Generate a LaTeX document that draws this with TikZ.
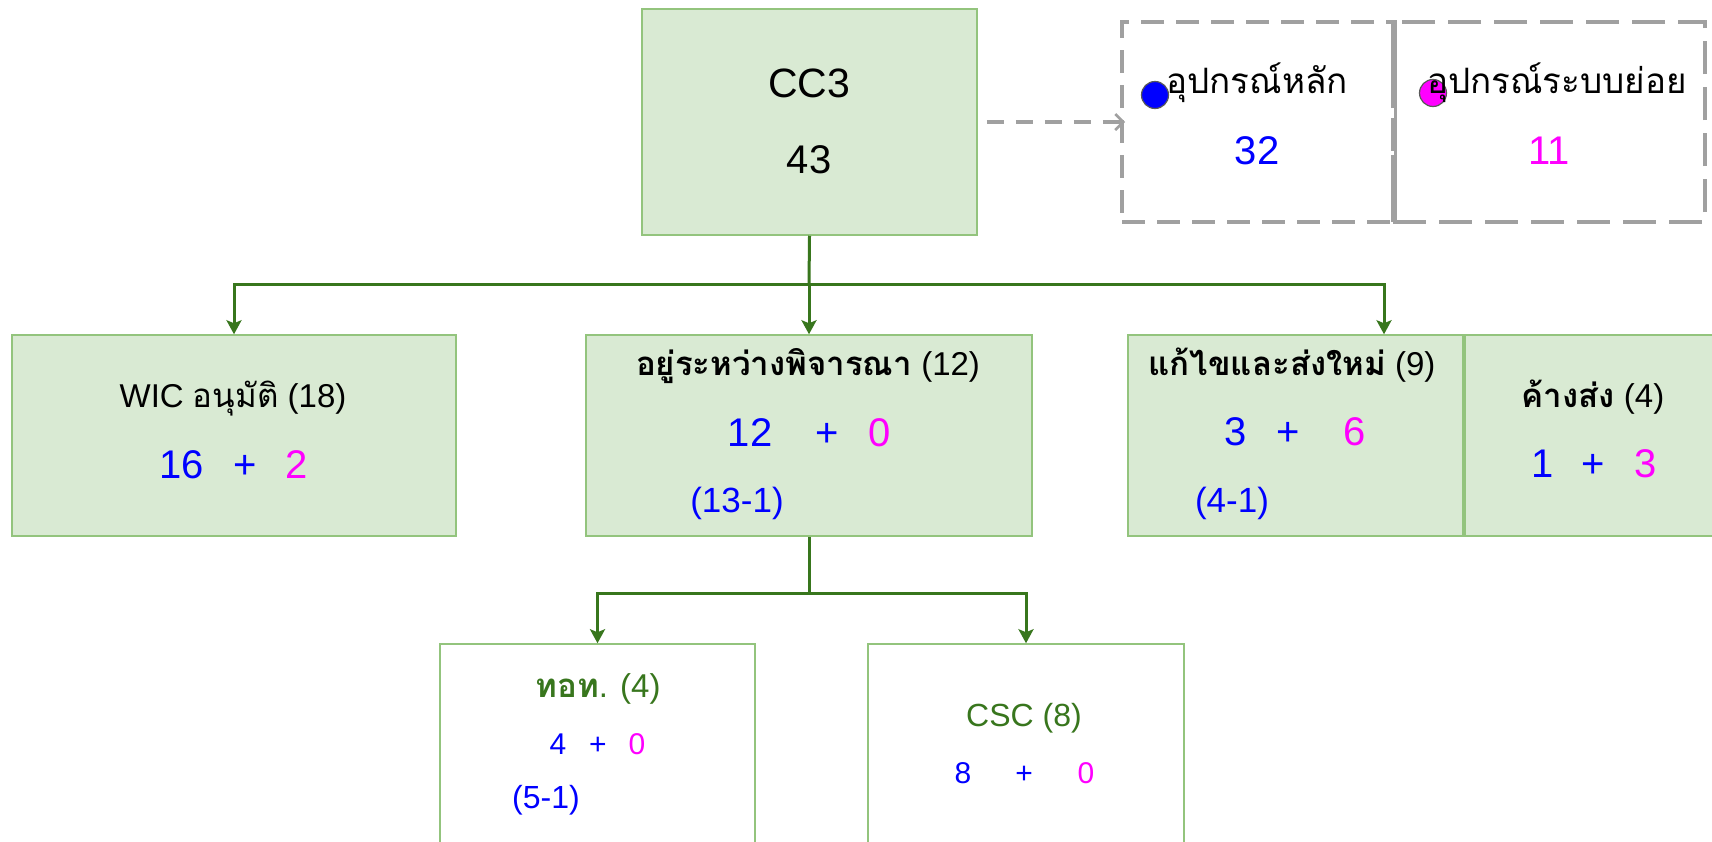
\documentclass[tikz,border=0pt]{standalone}
\usepackage{fontspec}
\setmainfont{Liberation Sans}
\newfontfamily\thaifont[Script=Thai]{Loma}
\usetikzlibrary{arrows.meta}
\definecolor{boxfill}{HTML}{D9EAD3}
\definecolor{boxline}{HTML}{93C47D}
\definecolor{dgreen}{HTML}{38761D}
\definecolor{dgray}{HTML}{A0A0A0}
\definecolor{mag}{HTML}{FF00FF}
\newcommand\fsz[1]{\fontsize{#1}{#1}\selectfont}
\newcommand\tht[1]{{\thaifont #1}}
\tikzset{
  gbox/.style={draw=boxline, fill=boxfill, line width=1.5pt, inner sep=0pt},
  wbox/.style={draw=boxline, fill=white, line width=1.5pt, inner sep=0pt},
  lbox/.style={draw=dgray, line width=4pt, inner sep=0pt},
  gline/.style={draw=dgreen, line width=3pt},
  garrow/.style={gline, -{Stealth[length=14pt,width=15pt,inset=3pt]}},
  darrow/.style={draw=dgray, line width=4pt, dash pattern=on 17pt off 12pt, -{Straight Barb[length=8pt,width=16pt,line width=2.5pt]}},
  txt/.style={anchor=base, inner sep=0pt},
  dot/.style={circle, draw=black!65, line width=1.2pt, minimum size=27pt, inner sep=0pt},
}
\begin{document}
\begin{tikzpicture}[x=1pt,y=-1pt]
\useasboundingbox (0,0) rectangle (1712,841);
\fill[white] (0,0) rectangle (1712,841);
\clip (0,0) rectangle (1712,841);

% boxes
\node[gbox, minimum width=335pt, minimum height=226pt] (cc3) at (809.5,122) {};
\node[gbox, minimum width=444pt, minimum height=201pt] (wic) at (234,435.5) {};
\node[gbox, minimum width=446pt, minimum height=201pt] (pend) at (809,435.5) {};
\node[gbox, minimum width=335pt, minimum height=201pt] (fix) at (1295.5,435.5) {};
\node[gbox, minimum width=270pt, minimum height=201pt] (owe) at (1600,435.5) {};
\node[wbox, minimum width=315pt, minimum height=256pt] (aot) at (597.5,772) {};
\node[wbox, minimum width=316pt, minimum height=256pt] (csc) at (1026,772) {};
\node[lbox, dash pattern=on 23pt off 12pt, minimum width=271pt, minimum height=200pt] (legL) at (1257.5,122) {};
\node[lbox, dash pattern=on 33pt off 13pt, minimum width=312pt, minimum height=200pt] (legR) at (1549,122) {};
\draw[dgray, line width=3pt] (legL.north east) -- (legL.south east);

% connectors
\coordinate (j1) at (809,284);
\coordinate (j2) at (809,593);
\draw[gline] (cc3.south) -- (j1);
\draw[garrow] (j1) -- (pend.north);
\draw[garrow, line join=miter] (j1) -| (wic.north);
\draw[garrow, line join=miter] (j1) -| ([xshift=88.5pt]fix.north);
\draw[gline] (pend.south) -- (j2);
\draw[garrow, line join=miter] (j2) -| (aot.north);
\draw[garrow, line join=miter] (j2) -| (csc.north);
\draw[darrow, shorten <=9pt, shorten >=-5pt] (cc3.east) -- (legL.west);

% CC3
\node[txt, font=\fsz{41}] (t-cc3) at (809,97) {CC3};
\node[txt, font=\fsz{40}] (t-43) at (809,173) {43};

% legend
\node[dot, fill=blue] (bdot) at (1155,95) {};
\node[dot, fill=mag] (mdot) at (1433,93) {};
\node[txt, font=\fsz{35}] (t-main) at (1257,93) {\tht{อุปกรณ์หลัก}};
\node[txt, font=\fsz{40}, text=blue] (t-32) at (1257,164) {32};
\node[txt, font=\fsz{35}] (t-sub) at (1557,93) {\tht{อุปกรณ์ระบบย่อย}};
\node[txt, font=\fsz{40}, text=mag] (t-11) at (1549,164) {11};

% WIC
\node[txt, font=\fsz{33}] (t-wic) at (233,407) {WIC \tht{อนุมัติ} (18)};
\node[txt, font=\fsz{40}, text=blue] (w1) at (182,478) {16};
\node[txt, font=\fsz{40}, text=blue] (w2) at (245,478) {+};
\node[txt, font=\fsz{40}, text=mag] (w3) at (297,478) {2};

% pending
\node[txt, font=\fsz{33}] (t-pend) at (808,375) {\tht{\bfseries อยู่ระหว่างพิจารณา} (12)};
\node[txt, font=\fsz{40}, text=blue] (p1) at (750,446) {12};
\node[txt, font=\fsz{40}, text=blue] (p2) at (827,446) {+};
\node[txt, font=\fsz{40}, text=mag] (p3) at (880,446) {0};
\node[txt, font=\fsz{35}, text=blue] (p4) at (737,512) {(13-1)};

% fix
\node[txt, font=\fsz{33}] (t-fix) at (1292,375) {\tht{\bfseries แก้ไขและส่งใหม่} (9)};
\node[txt, font=\fsz{40}, text=blue] (f1) at (1236,445) {3};
\node[txt, font=\fsz{40}, text=blue] (f2) at (1288,445) {+};
\node[txt, font=\fsz{40}, text=mag] (f3) at (1355,445) {6};
\node[txt, font=\fsz{35}, text=blue] (f4) at (1232,512) {(4-1)};

% owe
\node[txt, font=\fsz{33}] (t-owe) at (1593,407) {\tht{\bfseries ค้างส่ง} (4)};
\node[txt, font=\fsz{40}, text=blue] (o1) at (1543,477) {1};
\node[txt, font=\fsz{40}, text=blue] (o2) at (1593,477) {+};
\node[txt, font=\fsz{40}, text=mag] (o3) at (1646,477) {3};

% AOT
\node[txt, font=\fsz{33}, text=dgreen] (t-aot) at (598,697) {\tht{\bfseries ทอท}. (4)};
\node[txt, font=\fsz{30}, text=blue] (a1) at (558,754) {4};
\node[txt, font=\fsz{30}, text=blue] (a2) at (598,754) {+};
\node[txt, font=\fsz{30}, text=mag] (a3) at (637,754) {0};
\node[txt, font=\fsz{32}, text=blue] (a4) at (546,808) {(5-1)};

% CSC
\node[txt, font=\fsz{32}, text=dgreen] (t-csc) at (1024,726) {CSC (8)};
\node[txt, font=\fsz{30}, text=blue] (c1) at (963,783) {8};
\node[txt, font=\fsz{30}, text=blue] (c2) at (1024,783) {+};
\node[txt, font=\fsz{30}, text=mag] (c3) at (1086,783) {0};
\end{tikzpicture}
\end{document}
